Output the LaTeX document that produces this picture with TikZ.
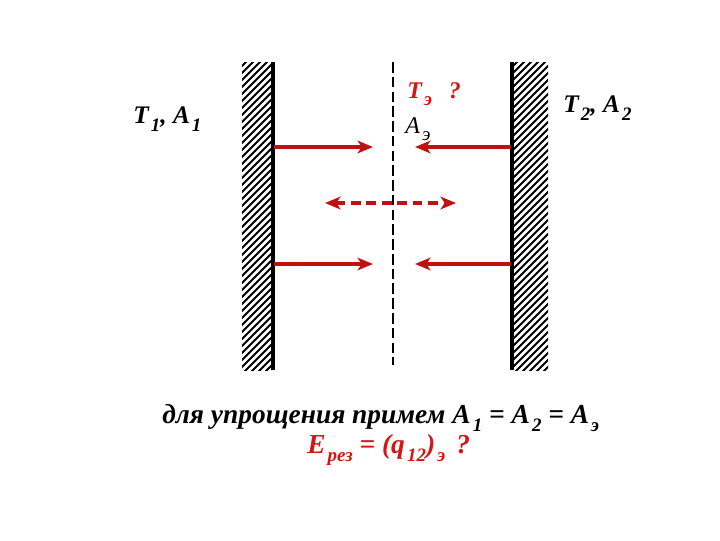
\documentclass[tikz,border=0pt]{standalone}
\usepackage{fontspec}
\setmainfont{Liberation Serif}
\usetikzlibrary{arrows.meta}
\definecolor{arrowred}{RGB}{192,16,16}
\definecolor{textred}{RGB}{214,20,20}
\tikzstyle{arrow} = [line width=2.3pt,-{Stealth[length=11pt,width=9pt,inset=3pt]},draw=arrowred]
\tikzstyle{hatch} = [line width=1.4pt]
\tikzstyle{wall} = [line width=2.2pt]
\tikzstyle{label} = [font=\bfseries\itshape\fontsize{18}{20}\selectfont, inner sep=0pt, anchor=base west]
\tikzstyle{note} = [font=\bfseries\itshape\fontsize{19.5}{22}\selectfont, inner sep=0pt, anchor=base west]
\newcommand{\lowidx}[1]{\kern1.5pt\raisebox{-0.7ex}{\fontsize{13.5}{14}\selectfont #1}}

\begin{document}
\begin{tikzpicture}[x=0.025cm,y=-0.025cm]
		\useasboundingbox (0,0) rectangle (720,540);

		%Walls
		\begin{scope}
			\clip (242,62) rectangle (272,370);
			\foreach \y in {56,63,...,420} \draw[hatch] (238,\y) -- (276,\y-38);
		\end{scope}
		\begin{scope}
			\clip (513,62) rectangle (548,370);
			\foreach \y in {56,63,...,420} \draw[hatch] (509,\y) -- (552,\y-43);
		\end{scope}
		\coordinate (w1_top) at (273,62);
		\coordinate (w1_bot) at (273,370);
		\coordinate (w2_top) at (512,62);
		\coordinate (w2_bot) at (512,370);
		\draw[wall] (w1_top) -- (w1_bot);
		\draw[wall] (w2_top) -- (w2_bot);

		%Screen
		\coordinate (s_top) at (393,62);
		\coordinate (s_bot) at (393,365);
		\draw[line width=1.5pt, dash pattern=on 7.5pt off 3pt] (s_top) -- (s_bot);

		%Fluxes
		\coordinate (l_1) at (274,147);
		\coordinate (lc_1) at (373,147);
		\coordinate (r_1) at (511,147);
		\coordinate (rc_1) at (415,147);
		\coordinate (l_2) at (274,264);
		\coordinate (lc_2) at (373,264);
		\coordinate (r_2) at (511,264);
		\coordinate (rc_2) at (415,264);
		\coordinate (d_l) at (325,203);
		\coordinate (d_r) at (456,203);
		\draw[arrow] (l_1) -- (lc_1);
		\draw[arrow] (r_1) -- (rc_1);
		\draw[arrow] (l_2) -- (lc_2);
		\draw[arrow] (r_2) -- (rc_2);
		\draw[arrow, {Stealth[length=11pt,width=9pt,inset=3pt]}-{Stealth[length=11pt,width=9pt,inset=3pt]}, dash pattern=on 7pt off 4pt] (d_l) -- (d_r);

		%Labels
		\node[label] (t_1) at (133,123) {T\lowidx{1}, A\lowidx{1}};
		\node[label] (t_2) at (563,112) {T\lowidx{2}, A\lowidx{2}};
		\node[label, text=textred, font=\bfseries\itshape\fontsize{17}{20}\selectfont] (t_e) at (407,98) {T\lowidx{э}\hspace{12pt}?};
		\node[label, font=\itshape\fontsize{17}{20}\selectfont] (a_e) at (405,133) {A\lowidx{э}};

		%Note
		\node[note] (simple) at (162,423) {для упрощения примем A\lowidx{1} = A\lowidx{2} = A\lowidx{э}};
		\node[note, text=textred] (e_res) at (307,453) {E\lowidx{рез} = (q\lowidx{12})\lowidx{э}\hspace{8pt}?};

	\end{tikzpicture}
\end{document}
